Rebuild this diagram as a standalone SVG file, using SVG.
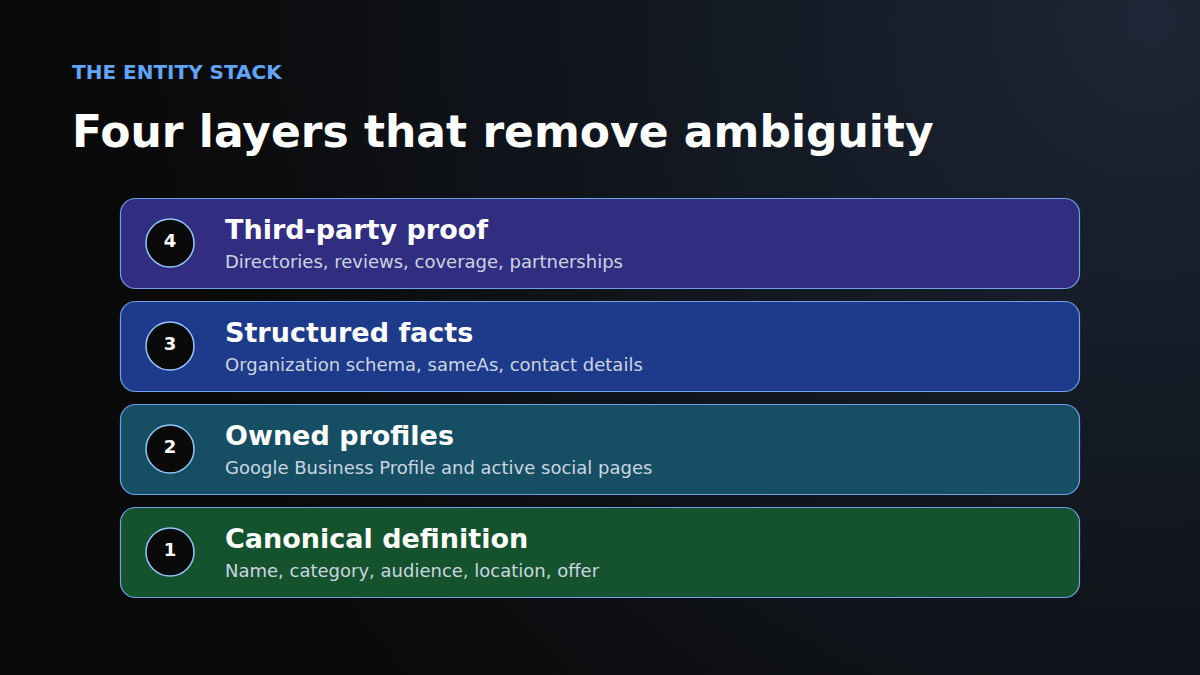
<svg xmlns="http://www.w3.org/2000/svg" width="1200" height="675" viewBox="0 0 1200 675">
<defs>
<radialGradient id="bg" cx="1150" cy="20" r="1000" gradientUnits="userSpaceOnUse">
<stop offset="0" stop-color="#1c2636"/>
<stop offset="0.6" stop-color="#10141b"/>
<stop offset="1" stop-color="#0a0a0a"/>
</radialGradient>
<style>
.kicker{font-family:"DejaVu Sans",sans-serif;font-weight:bold;font-size:20px;fill:#60a5fa}
.title{font-family:"DejaVu Sans",sans-serif;font-weight:bold;font-size:44px;fill:#ffffff}
.box{stroke:#6f9fe6;stroke-width:1.2}
.num{fill:#0a0a0a;stroke:#93c5fd;stroke-width:1.5}
.numt{font-family:"DejaVu Sans",sans-serif;font-weight:bold;font-size:18px;fill:#ffffff;text-anchor:middle}
.h{font-family:"DejaVu Sans",sans-serif;font-weight:bold;font-size:27px;fill:#ffffff}
.s{font-family:"DejaVu Sans",sans-serif;font-size:18px;fill:#cbd5e1}
</style>
</defs>
<rect width="1200" height="675" fill="url(#bg)"/>
<text class="kicker" x="72" y="79">THE ENTITY STACK</text>
<text class="title" x="72" y="147">Four layers that remove ambiguity</text>
<g id="layer4">
<rect class="box" x="120.5" y="198.5" width="959" height="90" rx="15" fill="#312e81"/>
<circle class="num" cx="170" cy="243" r="24"/>
<text class="numt" x="170" y="247">4</text>
<text class="h" x="225" y="239">Third-party proof</text>
<text class="s" x="225" y="268">Directories, reviews, coverage, partnerships</text>
</g>
<g id="layer3">
<rect class="box" x="120.5" y="301.5" width="959" height="90" rx="15" fill="#1e3a8a"/>
<circle class="num" cx="170" cy="346" r="24"/>
<text class="numt" x="170" y="350">3</text>
<text class="h" x="225" y="342">Structured facts</text>
<text class="s" x="225" y="371">Organization schema, sameAs, contact details</text>
</g>
<g id="layer2">
<rect class="box" x="120.5" y="404.5" width="959" height="90" rx="15" fill="#164e63"/>
<circle class="num" cx="170" cy="449" r="24"/>
<text class="numt" x="170" y="453">2</text>
<text class="h" x="225" y="445">Owned profiles</text>
<text class="s" x="225" y="474">Google Business Profile and active social pages</text>
</g>
<g id="layer1">
<rect class="box" x="120.5" y="507.5" width="959" height="90" rx="15" fill="#14532d"/>
<circle class="num" cx="170" cy="552" r="24"/>
<text class="numt" x="170" y="556">1</text>
<text class="h" x="225" y="548">Canonical definition</text>
<text class="s" x="225" y="577">Name, category, audience, location, offer</text>
</g>
</svg>
